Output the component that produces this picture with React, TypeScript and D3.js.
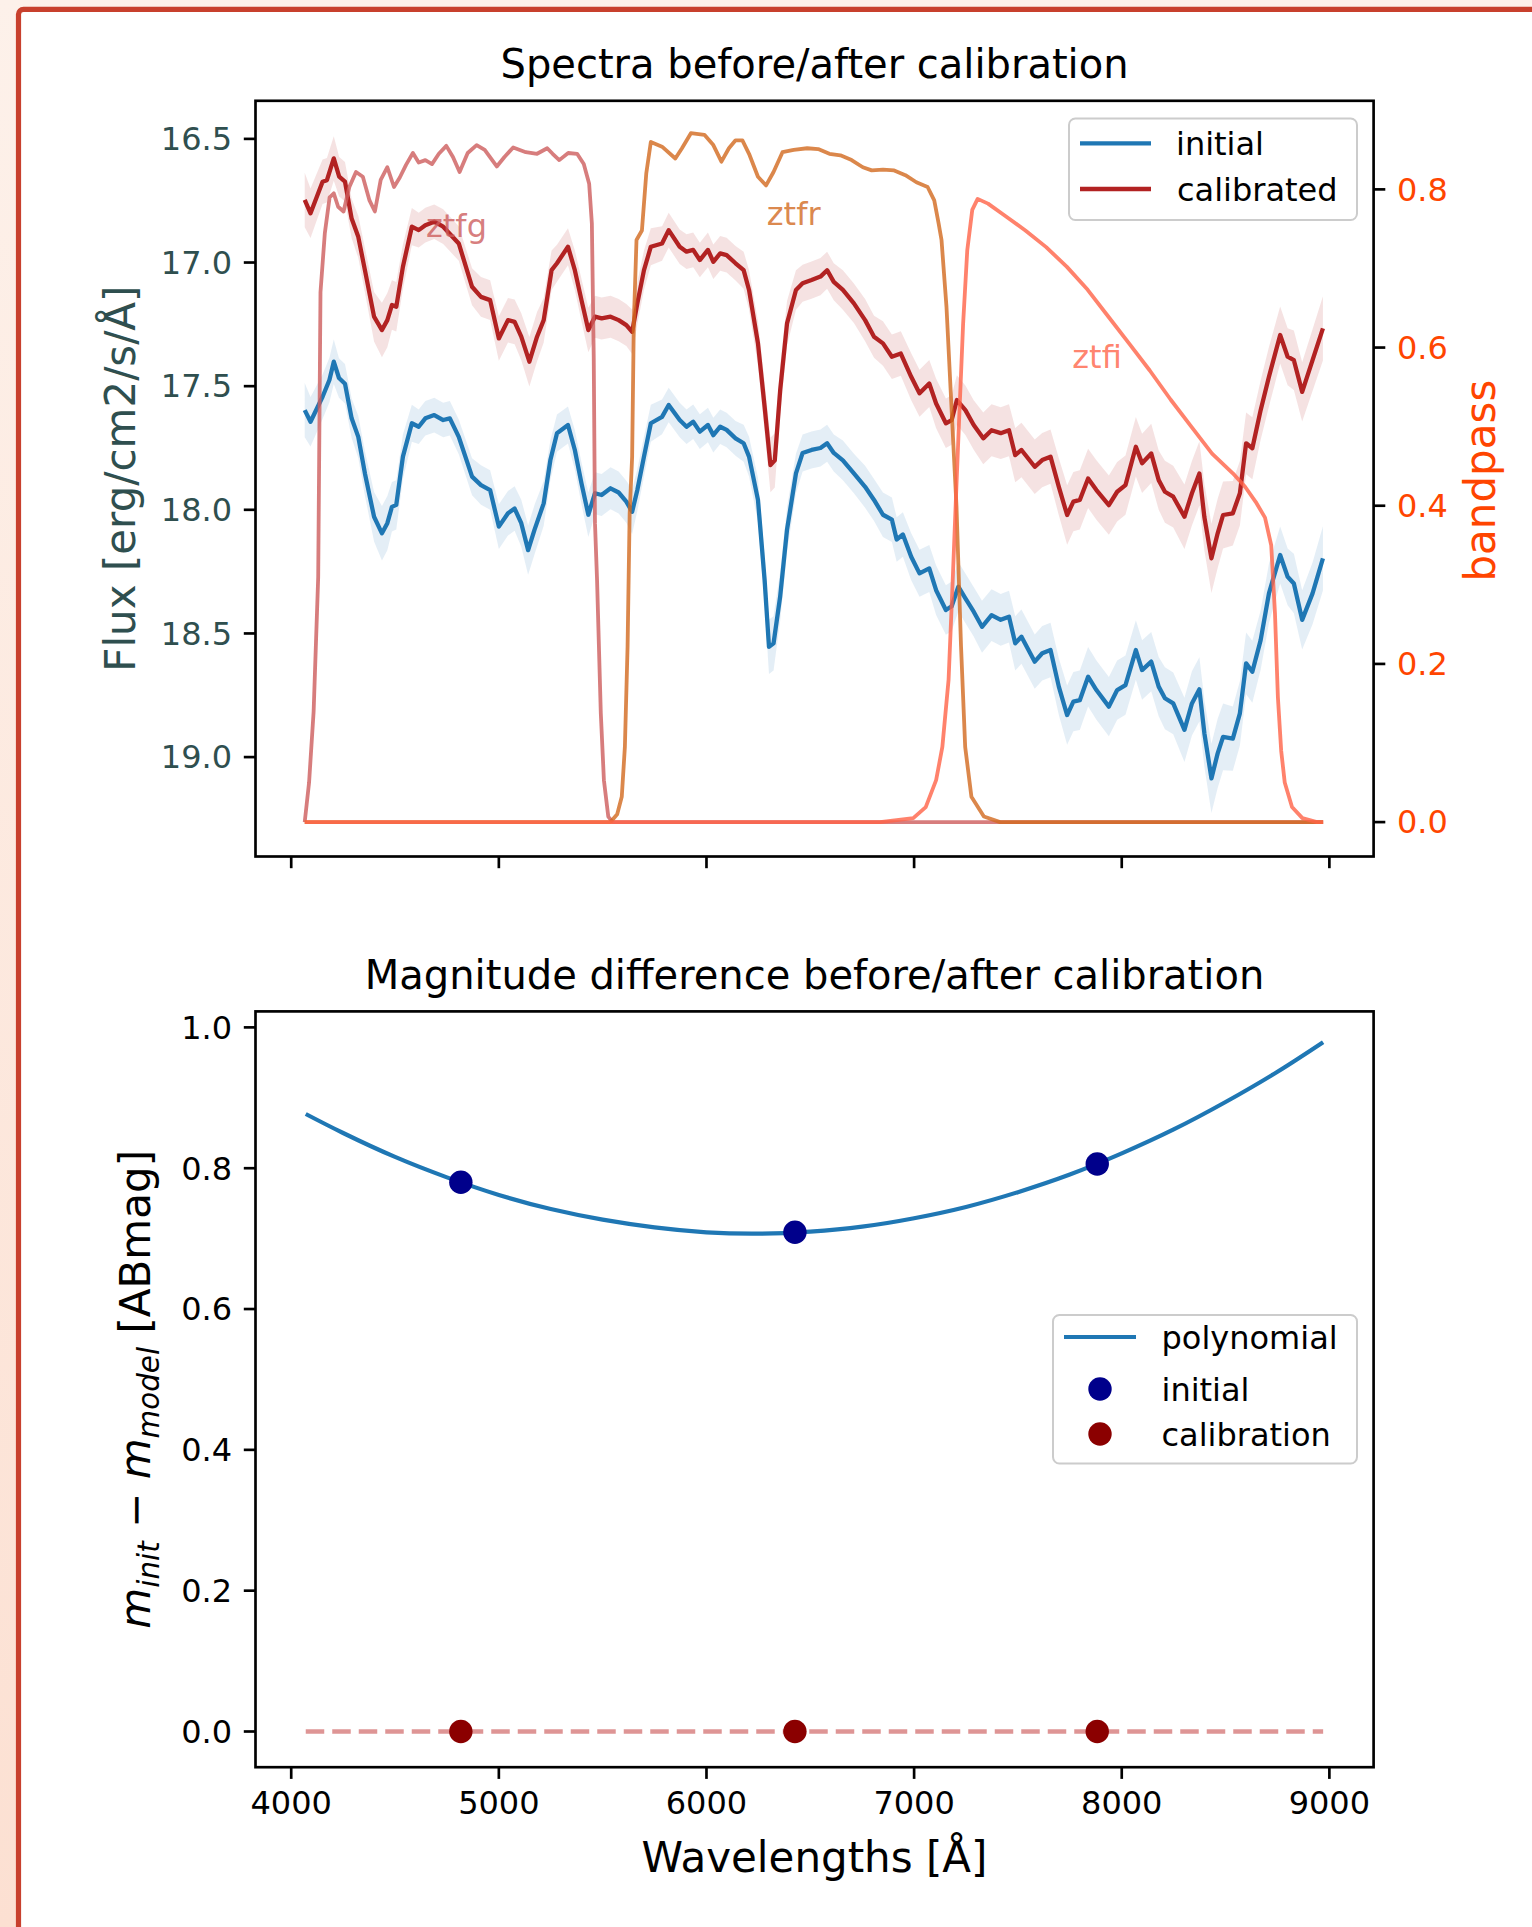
import React from 'react';
import * as d3 from 'd3';

const WIDTH = 1532;
const HEIGHT = 1927;
const FONT = '"DejaVu Sans", Verdana, sans-serif';

// ---------- data ----------
// [wavelength Å, flux, error]
const initialSpectrum: [number, number, number][] = [
  [4065, 17.597, 0.11], [4093, 17.644, 0.10], [4151, 17.543, 0.09], [4184, 17.475, 0.09],
  [4205, 17.401, 0.09], [4230, 17.467, 0.08], [4259, 17.490, 0.08], [4291, 17.630, 0.08],
  [4323, 17.705, 0.085], [4355, 17.853, 0.09], [4399, 18.028, 0.10], [4437, 18.095, 0.11],
  [4463, 18.054, 0.11], [4485, 17.988, 0.10], [4506, 17.980, 0.10], [4538, 17.785, 0.09],
  [4581, 17.650, 0.075], [4614, 17.664, 0.07], [4646, 17.630, 0.07], [4689, 17.617, 0.07],
  [4732, 17.637, 0.07], [4764, 17.630, 0.07], [4807, 17.705, 0.07], [4871, 17.866, 0.075],
  [4914, 17.900, 0.08], [4958, 17.920, 0.08], [5000, 18.068, 0.09], [5044, 18.014, 0.09],
  [5076, 17.995, 0.09], [5108, 18.054, 0.095], [5141, 18.163, 0.10], [5172, 18.080, 0.10],
  [5216, 17.974, 0.09], [5248, 17.800, 0.08], [5280, 17.690, 0.075], [5333, 17.657, 0.075],
  [5366, 17.758, 0.08], [5398, 17.893, 0.085], [5431, 18.020, 0.09], [5463, 17.933, 0.085],
  [5495, 17.940, 0.085], [5538, 17.913, 0.085], [5577, 17.930, 0.085], [5614, 17.967, 0.085],
  [5642, 18.008, 0.09], [5667, 17.920, 0.085], [5699, 17.785, 0.08], [5732, 17.650, 0.075],
  [5786, 17.624, 0.07], [5818, 17.576, 0.07], [5871, 17.637, 0.07], [5904, 17.664, 0.07],
  [5936, 17.644, 0.07], [5968, 17.684, 0.07], [6007, 17.657, 0.07], [6033, 17.698, 0.07],
  [6066, 17.664, 0.07], [6097, 17.677, 0.07], [6140, 17.711, 0.07], [6179, 17.731, 0.075],
  [6205, 17.785, 0.08], [6248, 17.960, 0.09], [6280, 18.284, 0.10], [6301, 18.554, 0.11],
  [6323, 18.540, 0.11], [6355, 18.350, 0.10], [6388, 18.080, 0.09], [6431, 17.853, 0.08],
  [6463, 17.770, 0.075], [6506, 17.758, 0.075], [6549, 17.750, 0.075], [6581, 17.731, 0.075],
  [6613, 17.770, 0.075], [6657, 17.800, 0.08], [6710, 17.853, 0.08], [6764, 17.907, 0.085],
  [6807, 17.960, 0.085], [6850, 18.020, 0.09], [6893, 18.040, 0.09], [6916, 18.120, 0.09],
  [6946, 18.100, 0.09], [6986, 18.190, 0.095], [7026, 18.257, 0.095], [7073, 18.237, 0.095],
  [7106, 18.325, 0.10], [7153, 18.405, 0.10], [7181, 18.390, 0.10], [7213, 18.311, 0.10],
  [7247, 18.358, 0.10], [7287, 18.412, 0.10], [7327, 18.473, 0.105], [7373, 18.426, 0.105],
  [7417, 18.445, 0.105], [7457, 18.432, 0.105], [7487, 18.540, 0.11], [7517, 18.513, 0.11],
  [7581, 18.614, 0.11], [7617, 18.580, 0.11], [7657, 18.567, 0.11], [7697, 18.715, 0.115],
  [7737, 18.830, 0.12], [7767, 18.776, 0.12], [7798, 18.770, 0.12], [7838, 18.675, 0.12],
  [7878, 18.729, 0.12], [7938, 18.796, 0.12], [7978, 18.729, 0.12], [8018, 18.709, 0.12],
  [8068, 18.567, 0.12], [8098, 18.648, 0.12], [8142, 18.614, 0.12], [8178, 18.715, 0.12],
  [8208, 18.762, 0.125], [8248, 18.783, 0.125], [8302, 18.890, 0.13], [8338, 18.783, 0.13],
  [8374, 18.726, 0.13], [8398, 18.904, 0.135], [8432, 19.086, 0.14], [8462, 18.985, 0.14],
  [8488, 18.918, 0.135], [8535, 18.925, 0.13], [8569, 18.823, 0.13], [8599, 18.621, 0.125],
  [8629, 18.655, 0.125], [8669, 18.527, 0.12], [8709, 18.338, 0.12], [8763, 18.183, 0.115],
  [8799, 18.271, 0.115], [8829, 18.298, 0.12], [8869, 18.445, 0.12], [8919, 18.338, 0.125],
  [8969, 18.196, 0.13],
];

const calibratedSpectrum: [number, number, number][] = [
  [4065, 16.747, 0.11], [4093, 16.801, 0.10], [4151, 16.673, 0.09], [4172, 16.667, 0.09],
  [4205, 16.579, 0.09], [4231, 16.653, 0.08], [4259, 16.673, 0.08], [4291, 16.822, 0.08],
  [4323, 16.896, 0.085], [4355, 17.031, 0.09], [4399, 17.219, 0.10], [4437, 17.273, 0.11],
  [4463, 17.233, 0.11], [4485, 17.172, 0.10], [4506, 17.179, 0.10], [4538, 17.017, 0.09],
  [4581, 16.855, 0.075], [4614, 16.869, 0.07], [4646, 16.849, 0.07], [4689, 16.835, 0.07],
  [4732, 16.855, 0.07], [4807, 16.923, 0.07], [4871, 17.098, 0.075], [4914, 17.139, 0.08],
  [4958, 17.152, 0.08], [5000, 17.307, 0.09], [5044, 17.233, 0.09], [5076, 17.240, 0.09],
  [5108, 17.300, 0.095], [5147, 17.401, 0.10], [5184, 17.300, 0.10], [5216, 17.233, 0.09],
  [5254, 17.031, 0.08], [5280, 17.003, 0.075], [5333, 16.936, 0.075], [5366, 17.031, 0.08],
  [5398, 17.152, 0.085], [5431, 17.273, 0.09], [5463, 17.219, 0.085], [5495, 17.226, 0.085],
  [5538, 17.219, 0.085], [5577, 17.233, 0.085], [5614, 17.253, 0.085], [5642, 17.280, 0.09],
  [5667, 17.165, 0.085], [5699, 17.031, 0.08], [5732, 16.936, 0.075], [5786, 16.923, 0.07],
  [5818, 16.869, 0.07], [5871, 16.936, 0.07], [5904, 16.956, 0.07], [5936, 16.949, 0.07],
  [5968, 16.990, 0.07], [6007, 16.949, 0.07], [6033, 16.997, 0.07], [6066, 16.963, 0.07],
  [6097, 16.970, 0.07], [6140, 17.003, 0.07], [6179, 17.031, 0.075], [6205, 17.111, 0.08],
  [6248, 17.327, 0.09], [6280, 17.583, 0.10], [6308, 17.819, 0.11], [6329, 17.800, 0.11],
  [6355, 17.516, 0.10], [6388, 17.246, 0.09], [6431, 17.111, 0.08], [6463, 17.084, 0.075],
  [6506, 17.071, 0.075], [6549, 17.057, 0.075], [6581, 17.031, 0.075], [6613, 17.078, 0.075],
  [6657, 17.111, 0.08], [6710, 17.165, 0.08], [6764, 17.233, 0.085], [6807, 17.300, 0.085],
  [6850, 17.327, 0.09], [6893, 17.381, 0.09], [6936, 17.368, 0.09], [6986, 17.462, 0.095],
  [7026, 17.529, 0.095], [7073, 17.489, 0.095], [7106, 17.570, 0.10], [7153, 17.650, 0.10],
  [7181, 17.637, 0.10], [7206, 17.556, 0.10], [7247, 17.597, 0.10], [7287, 17.657, 0.10],
  [7333, 17.711, 0.105], [7373, 17.678, 0.105], [7417, 17.690, 0.105], [7457, 17.678, 0.105],
  [7487, 17.779, 0.11], [7517, 17.758, 0.11], [7581, 17.826, 0.11], [7617, 17.799, 0.11],
  [7657, 17.785, 0.11], [7697, 17.907, 0.115], [7737, 18.021, 0.12], [7767, 17.967, 0.12],
  [7798, 17.960, 0.12], [7838, 17.873, 0.12], [7878, 17.920, 0.12], [7938, 17.981, 0.12],
  [7978, 17.927, 0.12], [8018, 17.900, 0.12], [8068, 17.745, 0.12], [8098, 17.812, 0.12],
  [8142, 17.772, 0.12], [8178, 17.880, 0.12], [8208, 17.927, 0.125], [8248, 17.947, 0.125],
  [8302, 18.028, 0.13], [8338, 17.933, 0.13], [8374, 17.853, 0.13], [8398, 18.030, 0.135],
  [8432, 18.196, 0.14], [8462, 18.095, 0.14], [8488, 18.021, 0.135], [8535, 18.014, 0.13],
  [8569, 17.933, 0.13], [8599, 17.731, 0.125], [8629, 17.751, 0.125], [8669, 17.597, 0.12],
  [8709, 17.462, 0.12], [8763, 17.293, 0.115], [8799, 17.381, 0.115], [8829, 17.395, 0.12],
  [8869, 17.523, 0.12], [8919, 17.395, 0.125], [8969, 17.266, 0.13],
];

// [wavelength Å, transmission]
const ztfgBandpass: [number, number][] = [
  [4065, 0.0], [4086, 0.05], [4108, 0.14], [4130, 0.31], [4141, 0.67], [4162, 0.745],
  [4185, 0.79], [4205, 0.795], [4226, 0.778], [4252, 0.772], [4280, 0.803], [4312, 0.822],
  [4345, 0.816], [4377, 0.786], [4403, 0.772], [4431, 0.812], [4463, 0.828], [4495, 0.803],
  [4523, 0.815], [4553, 0.831], [4586, 0.846], [4614, 0.834], [4646, 0.837], [4678, 0.832],
  [4711, 0.845], [4747, 0.855], [4779, 0.841], [4811, 0.822], [4850, 0.846], [4893, 0.856],
  [4932, 0.850], [4990, 0.829], [5027, 0.841], [5069, 0.853], [5130, 0.847], [5184, 0.845],
  [5233, 0.852], [5259, 0.845], [5291, 0.837], [5334, 0.846], [5377, 0.845], [5409, 0.832],
  [5435, 0.807], [5448, 0.757], [5457, 0.588], [5463, 0.378], [5473, 0.306], [5491, 0.138],
  [5506, 0.053], [5527, 0.007], [5548, 0.0], [8970, 0.0],
];

const ztfrBandpass: [number, number][] = [
  [4065, 0.0], [5538, 0.0], [5570, 0.01], [5592, 0.032], [5607, 0.095], [5620, 0.222],
  [5630, 0.39], [5642, 0.462], [5650, 0.631], [5663, 0.736], [5689, 0.748], [5710, 0.820],
  [5732, 0.860], [5786, 0.854], [5850, 0.839], [5882, 0.852], [5925, 0.871], [5990, 0.869],
  [6033, 0.856], [6072, 0.835], [6108, 0.852], [6140, 0.862], [6173, 0.862], [6205, 0.845],
  [6248, 0.816], [6287, 0.805], [6323, 0.822], [6366, 0.847], [6420, 0.850], [6485, 0.852],
  [6538, 0.851], [6592, 0.845], [6645, 0.843], [6699, 0.837], [6753, 0.828], [6796, 0.824],
  [6850, 0.825], [6904, 0.824], [6958, 0.818], [7011, 0.809], [7065, 0.803], [7097, 0.786],
  [7118, 0.757], [7132, 0.736], [7156, 0.651], [7176, 0.546], [7192, 0.462], [7204, 0.40],
  [7226, 0.222], [7246, 0.095], [7276, 0.032], [7336, 0.007], [7414, 0.0], [8970, 0.0],
];

const ztfiBandpass: [number, number][] = [
  [4065, 0.0], [6836, 0.0], [6996, 0.005], [7056, 0.019], [7106, 0.053], [7136, 0.095],
  [7166, 0.18], [7186, 0.306], [7200, 0.40], [7216, 0.504], [7236, 0.630], [7256, 0.723],
  [7280, 0.774], [7306, 0.788], [7356, 0.782], [7436, 0.767], [7536, 0.748], [7636, 0.727],
  [7736, 0.702], [7836, 0.673], [7936, 0.639], [8036, 0.605], [8135, 0.571], [8236, 0.534],
  [8335, 0.500], [8435, 0.466], [8535, 0.441], [8594, 0.424], [8645, 0.405], [8690, 0.385],
  [8720, 0.35], [8738, 0.264], [8752, 0.158], [8768, 0.09], [8785, 0.05], [8820, 0.019],
  [8870, 0.005], [8940, 0.0], [8970, 0.0],
];

const filterNames = ['ztfg', 'ztfr', 'ztfi'];
const filterLabelWave = [4796, 6420, 7881];
const filterLabelValue = [0.740, 0.755, 0.574];

// bottom panel
const polynomialCurve: [number, number][] = [
  [4070, 0.877], [4250, 0.850], [4500, 0.816], [4750, 0.787], [5000, 0.762], [5250, 0.742],
  [5500, 0.727], [5750, 0.716], [6000, 0.709], [6250, 0.707], [6500, 0.710], [6750, 0.717],
  [7000, 0.729], [7250, 0.745], [7500, 0.766], [7750, 0.791], [8000, 0.821], [8250, 0.855],
  [8500, 0.894], [8750, 0.937], [8970, 0.979],
];
const calibrationWavelengths = [4817, 6426, 7882];
const initialMagDiff = [0.780, 0.709, 0.806];
const calibratedMagDiff = [0.0, 0.0, 0.0];
const zeroLineRange = [4070, 8970];

const wavelengthTicks = [4000, 5000, 6000, 7000, 8000, 9000];
const fluxTicks = [16.5, 17.0, 17.5, 18.0, 18.5, 19.0];
const bandpassTicks = [0.0, 0.2, 0.4, 0.6, 0.8];
const magTicks = [0.0, 0.2, 0.4, 0.6, 0.8, 1.0];

// ---------- layout ----------
const AX_LEFT = 255.5;
const AX_RIGHT = 1373.6;
const TOP = { top: 100.8, bottom: 856.5 };
const BOT = { top: 1011.4, bottom: 1767.2 };
const TICK_LEN = 11.7;
const TICK_PAD = 11.7;
const SPINE_W = 2.67;
const TICK_FS = 32;

const C_INIT = '#1f77b4';
const C_CAL = '#b22222';
const FILTER_COLORS = ['#cd5c5c', '#d2691e', '#ff6347'];
const FLUX_COLOR = '#2f4f4f';
const BAND_COLOR = '#ff4500';

export default function App() {
  const x = d3.scaleLinear().domain([3828, 9213]).range([AX_LEFT, AX_RIGHT]);
  const yFlux = d3.scaleLinear().domain([16.346, 19.402]).range([TOP.top, TOP.bottom]);
  const yBand = d3.scaleLinear().domain([-0.0435, 0.912]).range([TOP.bottom, TOP.top]);
  const yMag = d3.scaleLinear().domain([-0.0507, 1.0227]).range([BOT.bottom, BOT.top]);

  const specLine = d3.line<[number, number, number]>().x(d => x(d[0])).y(d => yFlux(d[1]));
  const specArea = d3
    .area<[number, number, number]>()
    .x(d => x(d[0]))
    .y0(d => yFlux(d[1] + d[2]))
    .y1(d => yFlux(d[1] - d[2]));
  const bandLine = d3.line<[number, number]>().x(d => x(d[0])).y(d => yBand(d[1]));
  const polyLine = d3
    .line<[number, number]>()
    .x(d => x(d[0]))
    .y(d => yMag(d[1]))
    .curve(d3.curveNatural);

  const filters = [ztfgBandpass, ztfrBandpass, ztfiBandpass];
  const fmt1 = d3.format('.1f');

  const textStyle = { fontFamily: FONT };

  return (
    <div style={{ position: 'absolute', left: 0, top: 0, width: WIDTH, height: HEIGHT }}>
      <style>{'html,body{margin:0;padding:0;overflow:hidden;}'}</style>
      <svg width={WIDTH} height={HEIGHT} style={{ display: 'block', fontFamily: FONT }}>
        <defs>
          <linearGradient id="bg" x1="0" y1="0" x2="0" y2="1">
            <stop offset="0" stopColor="#fdf1ea" />
            <stop offset="1" stopColor="#fce0d2" />
          </linearGradient>
          <clipPath id="clipTop">
            <rect x={AX_LEFT} y={TOP.top} width={AX_RIGHT - AX_LEFT} height={TOP.bottom - TOP.top} />
          </clipPath>
          <clipPath id="clipBot">
            <rect x={AX_LEFT} y={BOT.top} width={AX_RIGHT - AX_LEFT} height={BOT.bottom - BOT.top} />
          </clipPath>
        </defs>

        {/* page frame */}
        <rect x={0} y={0} width={WIDTH} height={HEIGHT} fill="url(#bg)" />
        <rect x={18.5} y={9.3} width={WIDTH + 40} height={HEIGHT + 40} rx={5} fill="#ffffff" stroke="#c8402d" strokeWidth={5.2} />

        {/* ===== TOP PANEL ===== */}
        <text x={(AX_LEFT + AX_RIGHT) / 2} y={77.5} textAnchor="middle" fontSize={40} fill="#000" style={textStyle}>
          Spectra before/after calibration
        </text>

        <g clipPath="url(#clipTop)">
          <path d={specArea(initialSpectrum) || ''} fill={C_INIT} fillOpacity={0.12} />
          <path d={specArea(calibratedSpectrum) || ''} fill={C_CAL} fillOpacity={0.13} />
          <path d={specLine(initialSpectrum) || ''} fill="none" stroke={C_INIT} strokeWidth={4.3} strokeLinejoin="round" />
          <path d={specLine(calibratedSpectrum) || ''} fill="none" stroke={C_CAL} strokeWidth={4.3} strokeLinejoin="round" />
        </g>

        {/* legend (primary axes) */}
        <g>
          <rect x={1069} y={118.5} width={288} height={101.5} rx={6.4} fill="#fff" fillOpacity={0.8} stroke="#cccccc" strokeWidth={2} />
          <line x1={1080} x2={1151} y1={143.3} y2={143.3} stroke={C_INIT} strokeWidth={4.3} />
          <text x={1176} y={154.8} fontSize={TICK_FS} fill="#000" style={textStyle}>initial</text>
          <line x1={1080} x2={1151} y1={189} y2={189} stroke={C_CAL} strokeWidth={4.3} />
          <text x={1177} y={200.5} fontSize={TICK_FS} fill="#000" style={textStyle}>calibrated</text>
        </g>

        {/* bandpass curves (twin axes, drawn on top) */}
        <g clipPath="url(#clipTop)">
          {filters.map((f, i) => (
            <path key={filterNames[i]} d={bandLine(f) || ''} fill="none" stroke={FILTER_COLORS[i]} strokeOpacity={0.8} strokeWidth={3.8} strokeLinejoin="round" />
          ))}
          {filterNames.map((n, i) => (
            <text
              key={n}
              x={x(filterLabelWave[i])}
              y={yBand(filterLabelValue[i])}
              textAnchor="middle"
              fontSize={TICK_FS}
              fill={FILTER_COLORS[i]}
              fillOpacity={0.8}
              style={textStyle}
            >
              {n}
            </text>
          ))}
        </g>

        {/* top spines */}
        <rect x={AX_LEFT} y={TOP.top} width={AX_RIGHT - AX_LEFT} height={TOP.bottom - TOP.top} fill="none" stroke="#000" strokeWidth={SPINE_W} />

        {/* top left ticks */}
        {fluxTicks.map(t => (
          <g key={'ft' + t}>
            <line x1={AX_LEFT - TICK_LEN} x2={AX_LEFT} y1={yFlux(t)} y2={yFlux(t)} stroke="#000" strokeWidth={SPINE_W} />
            <text x={AX_LEFT - TICK_LEN - TICK_PAD} y={yFlux(t) + 11.3} textAnchor="end" fontSize={TICK_FS} fill={FLUX_COLOR} style={textStyle}>
              {fmt1(t)}
            </text>
          </g>
        ))}
        {/* top right ticks */}
        {bandpassTicks.map(t => (
          <g key={'bt' + t}>
            <line x1={AX_RIGHT} x2={AX_RIGHT + TICK_LEN} y1={yBand(t)} y2={yBand(t)} stroke="#000" strokeWidth={SPINE_W} />
            <text x={AX_RIGHT + TICK_LEN + TICK_PAD} y={yBand(t) + 11.3} textAnchor="start" fontSize={TICK_FS} fill={BAND_COLOR} style={textStyle}>
              {fmt1(t)}
            </text>
          </g>
        ))}
        {/* top x ticks (no labels) */}
        {wavelengthTicks.map(t => (
          <line key={'xt' + t} x1={x(t)} x2={x(t)} y1={TOP.bottom} y2={TOP.bottom + TICK_LEN} stroke="#000" strokeWidth={SPINE_W} />
        ))}

        {/* top axis labels */}
        <text transform={`translate(134.5,${(TOP.top + TOP.bottom) / 2}) rotate(-90)`} textAnchor="middle" fontSize={42} fill={FLUX_COLOR} style={textStyle}>
          Flux [erg/cm2/s/Å]
        </text>
        <text transform={`translate(1495,${(TOP.top + TOP.bottom) / 2 + 2}) rotate(-90)`} textAnchor="middle" fontSize={42} fill={BAND_COLOR} style={textStyle}>
          bandpass
        </text>

        {/* ===== BOTTOM PANEL ===== */}
        <text x={(AX_LEFT + AX_RIGHT) / 2} y={989} textAnchor="middle" fontSize={40} fill="#000" style={textStyle}>
          Magnitude difference before/after calibration
        </text>

        <g clipPath="url(#clipBot)">
          <line
            x1={x(zeroLineRange[0])}
            x2={x(zeroLineRange[1])}
            y1={yMag(0)}
            y2={yMag(0)}
            stroke="#cd5c5c"
            strokeOpacity={0.65}
            strokeWidth={4.6}
            strokeDasharray="18.5 8"
          />
          <path d={polyLine(polynomialCurve) || ''} fill="none" stroke={C_INIT} strokeWidth={4.2} />
          {calibrationWavelengths.map((w, i) => (
            <circle key={'ini' + w} cx={x(w)} cy={yMag(initialMagDiff[i])} r={11.7} fill="#00008b" />
          ))}
          {calibrationWavelengths.map((w, i) => (
            <circle key={'cal' + w} cx={x(w)} cy={yMag(calibratedMagDiff[i])} r={11.7} fill="#8b0000" />
          ))}
        </g>

        {/* bottom legend */}
        <g>
          <rect x={1053} y={1315} width={304} height={148.5} rx={6.4} fill="#fff" fillOpacity={0.8} stroke="#cccccc" strokeWidth={2} />
          <line x1={1064} x2={1136} y1={1337} y2={1337} stroke={C_INIT} strokeWidth={4.2} />
          <text x={1161.5} y={1348.5} fontSize={TICK_FS} fill="#000" style={textStyle}>polynomial</text>
          <circle cx={1100} cy={1389} r={11.7} fill="#00008b" />
          <text x={1161.5} y={1400.5} fontSize={TICK_FS} fill="#000" style={textStyle}>initial</text>
          <circle cx={1100} cy={1434} r={11.7} fill="#8b0000" />
          <text x={1161.5} y={1445.5} fontSize={TICK_FS} fill="#000" style={textStyle}>calibration</text>
        </g>

        {/* bottom spines */}
        <rect x={AX_LEFT} y={BOT.top} width={AX_RIGHT - AX_LEFT} height={BOT.bottom - BOT.top} fill="none" stroke="#000" strokeWidth={SPINE_W} />

        {magTicks.map(t => (
          <g key={'mt' + t}>
            <line x1={AX_LEFT - TICK_LEN} x2={AX_LEFT} y1={yMag(t)} y2={yMag(t)} stroke="#000" strokeWidth={SPINE_W} />
            <text x={AX_LEFT - TICK_LEN - TICK_PAD} y={yMag(t) + 11.3} textAnchor="end" fontSize={TICK_FS} fill="#000" style={textStyle}>
              {fmt1(t)}
            </text>
          </g>
        ))}
        {wavelengthTicks.map(t => (
          <g key={'bx' + t}>
            <line x1={x(t)} x2={x(t)} y1={BOT.bottom} y2={BOT.bottom + TICK_LEN} stroke="#000" strokeWidth={SPINE_W} />
            <text x={x(t)} y={BOT.bottom + TICK_LEN + TICK_PAD + 23.3} textAnchor="middle" fontSize={TICK_FS} fill="#000" style={textStyle}>
              {String(t)}
            </text>
          </g>
        ))}

        <text x={(AX_LEFT + AX_RIGHT) / 2} y={1872} textAnchor="middle" fontSize={42} fill="#000" style={textStyle}>
          Wavelengths [Å]
        </text>

        <text transform={`translate(149.5,${(BOT.top + BOT.bottom) / 2}) rotate(-90)`} textAnchor="middle" fontSize={42} fill="#000" style={textStyle}>
          <tspan fontStyle="italic">m</tspan>
          <tspan fontStyle="italic" fontSize={29.4} dy={9}>init</tspan>
          <tspan dy={-9}>{' − '}</tspan>
          <tspan fontStyle="italic">m</tspan>
          <tspan fontStyle="italic" fontSize={29.4} dy={9}>model</tspan>
          <tspan dy={-9}>{' [ABmag]'}</tspan>
        </text>
      </svg>
    </div>
  );
}
